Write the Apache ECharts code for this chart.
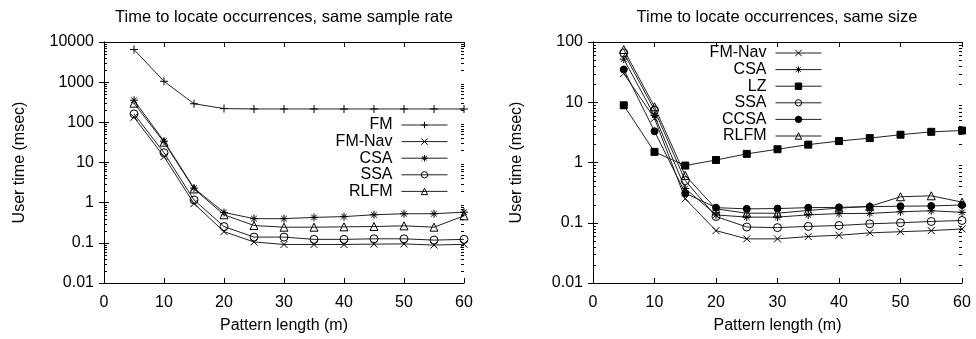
<!DOCTYPE html>
<html><head><meta charset="utf-8">
<script src="https://cdn.jsdelivr.net/npm/echarts@6/dist/echarts.min.js"></script>
<style>html,body{margin:0;padding:0;background:#fff}#c{width:976px;height:339px}</style>
</head><body><div id="c"></div>
<script>
// ---------- data ----------
const patternLengths = [5, 10, 15, 20, 25, 30, 35, 40, 45, 50, 55, 60];
const xTicks = [0, 10, 20, 30, 40, 50, 60];

// Left: same sample rate
const leftFM     = [6500, 1050, 290, 220, 215, 215, 215, 215, 215, 215, 215, 215];
const leftFMNav  = [134, 14, 0.95, 0.19, 0.105, 0.091, 0.091, 0.091, 0.093, 0.094, 0.088, 0.092];
const leftCSA    = [355, 34, 2.3, 0.57, 0.40, 0.40, 0.43, 0.45, 0.50, 0.53, 0.53, 0.58];
const leftSSA    = [162, 17.5, 1.17, 0.254, 0.139, 0.139, 0.122, 0.122, 0.126, 0.126, 0.117, 0.122];
const leftRLFM   = [300, 32, 2.2, 0.50, 0.27, 0.245, 0.245, 0.25, 0.255, 0.265, 0.245, 0.47];

// Right: same size
const rightFMNav = [30, 5.4, 0.25, 0.074, 0.054, 0.054, 0.059, 0.062, 0.068, 0.071, 0.074, 0.079];
const rightCSA   = [52, 6.0, 0.37, 0.135, 0.124, 0.124, 0.135, 0.142, 0.143, 0.152, 0.158, 0.149];
const rightLZ    = [8.9, 1.5, 0.89, 1.1, 1.39, 1.66, 1.98, 2.27, 2.54, 2.89, 3.23, 3.39];
const rightSSA   = [66, 7.4, 0.50, 0.127, 0.085, 0.083, 0.087, 0.09, 0.096, 0.1, 0.105, 0.109];
const rightCCSA  = [35, 3.3, 0.31, 0.178, 0.17, 0.172, 0.178, 0.18, 0.185, 0.188, 0.19, 0.197];
const rightRLFM  = [75, 8.4, 0.61, 0.17, 0.144, 0.144, 0.16, 0.175, 0.187, 0.27, 0.28, 0.22];

const leftDecades  = [0.01, 0.1, 1, 10, 100, 1000];
const rightDecades = [0.01, 0.1, 1, 10];

// ---------- styles ----------
const FONT = 'Liberation Sans, Arial, Helvetica, sans-serif';
const LINE = '#222';
const CLEAR = 'rgba(0,0,0,0)';
const MARK = {
  'FM':     { symbol: 'path://M0,5L10,5M5,0L5,10', size: 8, fill: CLEAR },
  'FM-Nav': { symbol: 'path://M0,0L10,10M10,0L0,10', size: 7, fill: CLEAR },
  'CSA':    { symbol: 'path://M0,5L10,5M5,0L5,10M1.5,1.5L8.5,8.5M8.5,1.5L1.5,8.5', size: 8, fill: CLEAR },
  'SSA':    { symbol: 'circle', size: 8, fill: CLEAR },
  'RLFM':   { symbol: 'triangle', size: 8, fill: CLEAR },
  'LZ':     { symbol: 'rect', size: 7, fill: '#000' },
  'CCSA':   { symbol: 'circle', size: 7, fill: '#000' }
};

function mkSeries(name, values, axisIdx) {
  const m = MARK[name];
  return {
    type: 'line', name: name,
    xAxisIndex: axisIdx, yAxisIndex: axisIdx,
    data: patternLengths.map((x, i) => [x, values[i]]),
    symbol: m.symbol, symbolSize: m.size, showAllSymbol: true,
    lineStyle: { color: LINE, width: 1 },
    itemStyle: { color: m.fill, borderColor: '#000', borderWidth: 1 },
    emphasis: { disabled: true },
    z: 3
  };
}

const axisLineStyle = { show: true, lineStyle: { color: '#000', width: 1 } };
const tickStyle = { show: true, inside: true, length: 5, lineStyle: { color: '#000', width: 1 } };
const labelStyle = { color: '#000', fontSize: 16, fontFamily: FONT };
const nameStyle = { color: '#000', fontSize: 16, fontFamily: FONT };
const fmtLog = v => String(+(+v).toPrecision(6));

function xBottom(gi) {
  return { type: 'value', gridIndex: gi, min: 0, max: 60, interval: 10, position: 'bottom',
    name: 'Pattern length (m)', nameLocation: 'middle', nameGap: 35, nameTextStyle: nameStyle,
    axisLine: axisLineStyle, axisTick: tickStyle, splitLine: { show: false }, minorTick: { show: false },
    axisLabel: Object.assign({ margin: 12, formatter: v => xTicks.includes(v) ? String(v) : '' }, labelStyle) };
}
function xTop(gi) {
  return { type: 'value', gridIndex: gi, min: 0, max: 60, interval: 10, position: 'top',
    axisLine: axisLineStyle, axisTick: tickStyle, splitLine: { show: false }, minorTick: { show: false },
    axisLabel: { show: false } };
}
function yLeft(gi, max, split, gap) {
  return { type: 'log', logBase: 10, gridIndex: gi, min: 0.01, max: max, splitNumber: split, position: 'left',
    name: 'User time (msec)', nameLocation: 'middle', nameGap: gap, nameTextStyle: nameStyle,
    axisLine: axisLineStyle, axisTick: tickStyle, splitLine: { show: false }, minorTick: { show: false },
    axisLabel: Object.assign({ margin: 10, formatter: fmtLog }, labelStyle) };
}
function yRight(gi, max, split) {
  return { type: 'log', logBase: 10, gridIndex: gi, min: 0.01, max: max, splitNumber: split, position: 'right',
    axisLine: axisLineStyle, axisTick: tickStyle, splitLine: { show: false }, minorTick: { show: false },
    axisLabel: { show: false } };
}

const legendCommon = {
  orient: 'vertical', align: 'right', itemWidth: 46, itemHeight: 8, itemGap: 0.6,
  selectedMode: false, inactiveColor: '#000',
  itemStyle: { borderWidth: 1 },
  lineStyle: { width: 1 },
  textStyle: { color: '#000', fontSize: 16, fontFamily: FONT, lineHeight: 16, padding: [0, 4, 0, 0] }
};

const titleStyle = { color: '#000', fontSize: 16.5, fontWeight: 'normal', fontFamily: FONT };

const option = {
  animation: false,
  backgroundColor: '#fff',
  title: [
    { text: 'Time to locate occurrences, same sample rate', left: 279, top: 4, textAlign: 'center', textStyle: titleStyle },
    { text: 'Time to locate occurrences, same size', left: 772, top: 4, textAlign: 'center', textStyle: titleStyle }
  ],
  legend: [
    Object.assign({ data: ['FM', 'FM-Nav', 'CSA', 'SSA', 'RLFM'], right: 523, top: 112 }, legendCommon),
    Object.assign({ data: ['FM-Nav', 'CSA', 'LZ', 'SSA', 'CCSA', 'RLFM'], right: 149, top: 40 }, legendCommon)
  ],
  grid: [
    { left: 104, right: 512, top: 42, bottom: 52, containLabel: false },
    { left: 593, right: 14, top: 42, bottom: 52, containLabel: false }
  ],
  xAxis: [xBottom(0), xTop(0), xBottom(1), xTop(1)],
  yAxis: [yLeft(0, 10000, 6, 76), yRight(0, 10000, 6), yLeft(1, 100, 4, 68), yRight(1, 100, 4)],
  series: [
    mkSeries('FM', leftFM, 0),
    mkSeries('FM-Nav', leftFMNav, 0),
    mkSeries('CSA', leftCSA, 0),
    mkSeries('SSA', leftSSA, 0),
    mkSeries('RLFM', leftRLFM, 0),
    mkSeries('FM-Nav', rightFMNav, 2),
    mkSeries('CSA', rightCSA, 2),
    mkSeries('LZ', rightLZ, 2),
    mkSeries('SSA', rightSSA, 2),
    mkSeries('CCSA', rightCCSA, 2),
    mkSeries('RLFM', rightRLFM, 2)
  ]
};

const chart = echarts.init(document.getElementById('c'), null, { renderer: 'canvas' });
chart.setOption(option);

// minor log ticks (2..9 per decade) on both vertical edges, placed via the chart's own axis scales
const minorGraphics = [];
[[0, leftDecades], [1, rightDecades]].forEach(function (pair) {
  const gi = pair[0], decades = pair[1];
  decades.forEach(function (d) {
    for (let k = 2; k <= 9; k++) {
      const v = d * k;
      const a = chart.convertToPixel({ xAxisIndex: gi * 2, yAxisIndex: gi * 2 }, [0, v]);
      const b = chart.convertToPixel({ xAxisIndex: gi * 2, yAxisIndex: gi * 2 }, [60, v]);
      if (!a || !b) continue;
      const y = Math.round(a[1]) + 0.5;
      const xl = Math.round(a[0]), xr = Math.round(b[0]);
      minorGraphics.push({ type: 'line', silent: true, z: 5,
        shape: { x1: xl, y1: y, x2: xl + 3, y2: y }, style: { stroke: '#000', lineWidth: 1 } });
      minorGraphics.push({ type: 'line', silent: true, z: 5,
        shape: { x1: xr - 3, y1: y, x2: xr, y2: y }, style: { stroke: '#000', lineWidth: 1 } });
    }
  });
});
chart.setOption({ graphic: { elements: minorGraphics } });
</script>
</body></html>
